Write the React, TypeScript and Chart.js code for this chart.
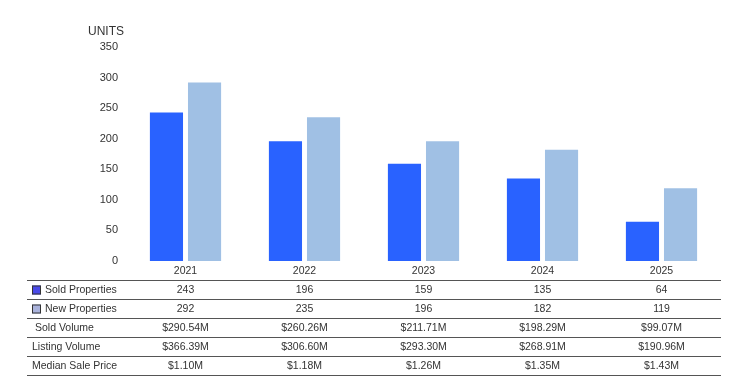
import React, { useEffect, useRef } from 'react';
import { Chart, registerables } from 'chart.js';

Chart.register(...registerables);

const years = ['2021', '2022', '2023', '2024', '2025'];
const soldProperties = [243, 196, 159, 135, 64];
const newProperties = [292, 235, 196, 182, 119];
const soldVolume = ['$290.54M', '$260.26M', '$211.71M', '$198.29M', '$99.07M'];
const listingVolume = ['$366.39M', '$306.60M', '$293.30M', '$268.91M', '$190.96M'];
const medianSalePrice = ['$1.10M', '$1.18M', '$1.26M', '$1.35M', '$1.43M'];
const yMax = 350;
const yStep = 50;
const yTitle = 'UNITS';

const FONT = '"Liberation Sans", Arial, sans-serif';
const TEXT = '#333333';
const SOLD_COLOR = '#2962ff';
const NEW_COLOR = '#a0c0e4';

const tablePlugin = {
  id: 'dataTable',
  afterDraw(chart: any) {
    const ctx = chart.ctx as CanvasRenderingContext2D;
    const xs = chart.scales.x;
    const rows = [
      { label: 'Sold Properties', values: soldProperties.map(String), swatch: '#4a4ae8', labelX: 45 },
      { label: 'New Properties', values: newProperties.map(String), swatch: '#aab3dc', labelX: 45 },
      { label: 'Sold Volume', values: soldVolume, swatch: null, labelX: 35 },
      { label: 'Listing Volume', values: listingVolume, swatch: null, labelX: 32 },
      { label: 'Median Sale Price', values: medianSalePrice, swatch: null, labelX: 32 },
    ];
    const top = 280;
    const rowH = 19;
    const left = 27;
    const right = chart.chartArea.right;
    ctx.save();
    ctx.strokeStyle = '#555555';
    ctx.lineWidth = 1;
    for (let i = 0; i <= rows.length; i++) {
      const y = top + i * rowH + 0.5;
      ctx.beginPath();
      ctx.moveTo(left, y);
      ctx.lineTo(right, y);
      ctx.stroke();
    }
    ctx.font = `10.5px ${FONT}`;
    ctx.fillStyle = TEXT;
    ctx.textBaseline = 'middle';
    rows.forEach((r, i) => {
      const cy = top + i * rowH + rowH / 2 + 0.5;
      if (r.swatch) {
        ctx.fillStyle = r.swatch;
        ctx.fillRect(32, cy - 4.5, 9, 9);
        ctx.strokeStyle = '#333333';
        ctx.strokeRect(32.5, cy - 4, 8, 8);
      }
      ctx.fillStyle = TEXT;
      ctx.textAlign = 'left';
      ctx.fillText(r.label, r.labelX, cy);
      ctx.textAlign = 'center';
      r.values.forEach((v, j) => {
        ctx.fillText(v, xs.getPixelForValue(j), cy);
      });
    });
    ctx.font = `12px ${FONT}`;
    ctx.textAlign = 'center';
    ctx.fillText(yTitle, 106, 32);
    ctx.restore();
  },
};

export default function App() {
  const ref = useRef<HTMLCanvasElement>(null);
  useEffect(() => {
    const chart = new Chart(ref.current!, {
      type: 'bar',
      data: {
        labels: years,
        datasets: [
          { label: 'Sold Properties', data: soldProperties, backgroundColor: SOLD_COLOR },
          { label: 'New Properties', data: newProperties, backgroundColor: NEW_COLOR },
        ],
      },
      options: {
        responsive: false,
        animation: false,
        datasets: { bar: { categoryPercentage: 0.64, barPercentage: 0.87 } },
        layout: { padding: { left: 0, right: 32, top: 47, bottom: 111 } },
        plugins: { legend: { display: false }, tooltip: { enabled: false }, title: { display: false } },
        scales: {
          x: {
            grid: { display: false, drawTicks: false },
            border: { display: false },
            ticks: { color: TEXT, font: { family: FONT, size: 10.5 }, padding: 4, maxRotation: 0 },
            afterFit: (s: any) => { s.height = 20; },
          },
          y: {
            min: 0,
            max: yMax,
            grid: { display: false, drawTicks: false },
            border: { display: false },
            ticks: { stepSize: yStep, color: TEXT, font: { family: FONT, size: 11 }, padding: 8 },
            afterFit: (s: any) => { s.width = 126; },
          },
        },
      },
      plugins: [tablePlugin],
    });
    return () => chart.destroy();
  }, []);
  return (
    <div style={{ position: 'absolute', left: 0, top: 0, width: 753, height: 392, background: '#fff' }}>
      <canvas ref={ref} width={753} height={392} style={{ display: 'block' }} />
    </div>
  );
}
